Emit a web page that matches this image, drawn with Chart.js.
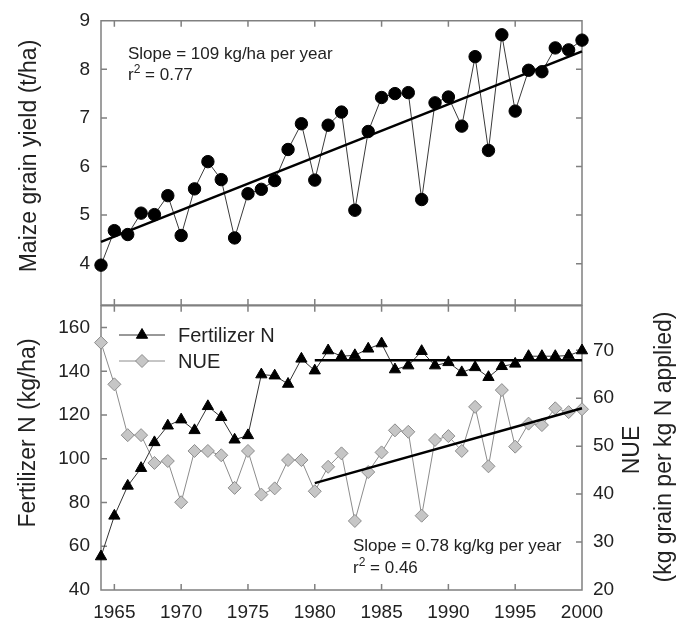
<!DOCTYPE html>
<html>
<head>
<meta charset="utf-8">
<script src="https://cdn.jsdelivr.net/npm/chart.js@4.4.1/dist/chart.umd.min.js"></script>
<style>
  html, body { margin: 0; padding: 0; background: #fff; }
  #wrap { position: relative; width: 679px; height: 624px; }
  canvas { position: absolute; left: 0; }
  #yieldChart { top: 0; }
  #nChart { top: 300px; }
</style>
</head>
<body>
<div id="wrap">
  <canvas id="yieldChart" width="679" height="310"></canvas>
  <canvas id="nChart" width="679" height="324"></canvas>
</div>
<script>
// data
var years = [1964, 1965, 1966, 1967, 1968, 1969, 1970, 1971, 1972, 1973, 1974, 1975,
             1976, 1977, 1978, 1979, 1980, 1981, 1982, 1983, 1984, 1985, 1986, 1987,
             1988, 1989, 1990, 1991, 1992, 1993, 1994, 1995, 1996, 1997, 1998, 1999, 2000];
var yearTicks = [1965, 1970, 1975, 1980, 1985, 1990, 1995, 2000];
var yieldTicks = [4, 5, 6, 7, 8, 9];
var fertTicks = [40, 60, 80, 100, 120, 140, 160];
var nueTicks = [20, 30, 40, 50, 60, 70];

var yieldData = [3.97, 4.68, 4.60, 5.04, 5.01, 5.40, 4.58, 5.54, 6.10, 5.73, 4.53, 5.44,
                 5.53, 5.71, 6.35, 6.88, 5.72, 6.85, 7.12, 5.10, 6.72, 7.42, 7.50, 7.52,
                 5.32, 7.31, 7.43, 6.83, 8.26, 6.33, 8.71, 7.14, 7.98, 7.95, 8.44, 8.40, 8.60];
var fertData = [55.3, 73.9, 87.6, 95.7, 107.5, 115.1, 117.9, 113.0, 124.0, 119.0, 108.7, 110.7,
                138.5, 138.0, 134.2, 145.7, 140.3, 149.5, 146.9, 147.3, 150.3, 152.7, 140.8, 142.6,
                149.2, 142.6, 144.1, 139.5, 141.8, 137.3, 142.3, 143.4, 146.9, 146.9, 146.9, 147.2, 149.5];
var nueData = [71.6, 62.9, 52.3, 52.3, 46.5, 46.9, 38.3, 49.0, 49.0, 48.1, 41.3, 49.0,
               39.9, 41.2, 47.1, 47.1, 40.6, 45.7, 48.5, 34.4, 44.6, 48.7, 53.3, 53.0,
               35.5, 51.3, 52.1, 49.0, 58.2, 45.8, 61.7, 49.9, 54.7, 54.4, 57.9, 57.1, 57.7];

// regression lines (end points)
var yieldFitYears = [1964, 2000];
var yieldFit = [4.45, 8.37];
var fertFitYears = [1980, 2000];
var fertFit = [145, 145];
var nueFitYears = [1980, 2000];
var nueFit = [42.3, 57.9];

var FONT = "'Liberation Sans', Arial, Helvetica, sans-serif";
var AXIS = '#808080';
var TEXT = '#222';

function pairs(xs, ys) {
    return xs.map(function (x, i) { return { x: x, y: ys[i] }; });
}

function fixedTicks(list) {
    return function (scale) {
        scale.ticks = list.map(function (v) { return { value: v }; });
    };
}

// fixed axis size, no automatic label padding
function fixedSize(w, h) {
    return function (s) {
        if (w !== null) s.width = w;
        if (h !== null) s.height = h;
        s.paddingTop = s.paddingBottom = s.paddingLeft = s.paddingRight = 0;
    };
}

// box around the plot area, ticks pointing inward
var framePlugin = {
    id: 'frame',
    beforeDatasetsDraw: function (chart, args, opts) {
        var ctx = chart.ctx, x = chart.scales.x;
        var left = chart.scales[opts.left], right = chart.scales[opts.right];
        var l = left.right, r = right.left, t = left.top, b = left.bottom;
        if (opts.left === opts.right) r = x.right;
        ctx.save();
        ctx.strokeStyle = AXIS;
        ctx.lineWidth = 1.5;
        ctx.beginPath();
        ctx.moveTo(l, t); ctx.lineTo(r, t); ctx.lineTo(r, b); ctx.lineTo(l, b); ctx.closePath();
        yearTicks.forEach(function (v) {
            var px = x.getPixelForValue(v);
            ctx.moveTo(px, t); ctx.lineTo(px, t + 6);
            ctx.moveTo(px, b); ctx.lineTo(px, b - 6);
        });
        opts.leftTicks.forEach(function (v) {
            var py = left.getPixelForValue(v);
            ctx.moveTo(l, py); ctx.lineTo(l + 6, py);
        });
        opts.rightTicks.forEach(function (v) {
            var py = right.getPixelForValue(v);
            ctx.moveTo(r, py); ctx.lineTo(r - 6, py);
        });
        ctx.stroke();
        ctx.restore();
    }
};

function vText(ctx, text, x, y, size) {
    ctx.save();
    ctx.translate(x, y);
    ctx.rotate(-Math.PI / 2);
    ctx.font = size + 'px ' + FONT;
    ctx.fillStyle = TEXT;
    ctx.textAlign = 'center';
    ctx.textBaseline = 'middle';
    ctx.fillText(text, 0, 0);
    ctx.restore();
}

function rSquared(ctx, x, y, value) {
    ctx.font = '17px ' + FONT;
    ctx.fillText('r', x, y);
    var w = ctx.measureText('r').width;
    ctx.font = '12px ' + FONT;
    ctx.fillText('2', x + w, y - 7);
    var w2 = ctx.measureText('2').width;
    ctx.font = '17px ' + FONT;
    ctx.fillText(' = ' + value, x + w + w2, y);
}

var topText = {
    id: 'topText',
    afterDraw: function (chart) {
        var ctx = chart.ctx;
        vText(ctx, 'Maize grain yield (t/ha)', 30, 156, 23);
        ctx.save();
        ctx.fillStyle = TEXT;
        ctx.textBaseline = 'alphabetic';
        ctx.font = '17px ' + FONT;
        ctx.fillText('Slope = 109 kg/ha per year', 128, 59);
        rSquared(ctx, 128, 80, '0.77');
        ctx.restore();
    }
};

var bottomText = {
    id: 'bottomText',
    afterDraw: function (chart) {
        var ctx = chart.ctx, off = 300;
        vText(ctx, 'Fertilizer N (kg/ha)', 29, 433 - off, 23);
        vText(ctx, 'NUE', 633, 450 - off, 23);
        vText(ctx, '(kg grain per kg N applied)', 665, 447 - off, 23);
        ctx.save();
        ctx.fillStyle = TEXT;
        ctx.textBaseline = 'alphabetic';
        ctx.font = '17px ' + FONT;
        ctx.fillText('Slope = 0.78 kg/kg per year', 353, 551 - off);
        rSquared(ctx, 353, 573 - off, '0.46');

        // legend: line with marker, same styles as the datasets
        var rows = [
            { ds: chart.data.datasets[2], y: 335 - off, label: 'Fertilizer N' },
            { ds: chart.data.datasets[3], y: 361 - off, label: 'NUE' }
        ];
        rows.forEach(function (r) {
            ctx.strokeStyle = r.ds.borderColor;
            ctx.lineWidth = r.ds.borderWidth;
            ctx.beginPath();
            ctx.moveTo(119, r.y); ctx.lineTo(165, r.y);
            ctx.stroke();
            ctx.fillStyle = r.ds.pointBackgroundColor;
            ctx.strokeStyle = r.ds.pointBorderColor;
            ctx.lineWidth = r.ds.pointBorderWidth;
            Chart.helpers.drawPoint(ctx, {
                pointStyle: r.ds.pointStyle, radius: r.ds.pointRadius,
                rotation: 0, borderWidth: r.ds.pointBorderWidth
            }, 142, r.y);
            ctx.fillStyle = TEXT;
            ctx.font = '20px ' + FONT;
            ctx.textBaseline = 'middle';
            ctx.fillText(r.label, 178, r.y + 1);
        });
        ctx.restore();
    }
};

var tickFont = { size: 19, family: FONT };

// maize grain yield (top panel)
var yieldChart = new Chart(document.getElementById('yieldChart'), {
    type: 'line',
    data: {
        datasets: [{
            label: 'Yield trend',
            data: pairs(yieldFitYears, yieldFit),
            borderColor: '#000',
            borderWidth: 2.5,
            pointRadius: 0,
            clip: false
        }, {
            label: 'Maize grain yield',
            data: pairs(years, yieldData),
            borderColor: '#3a3a3a',
            borderWidth: 1,
            pointStyle: 'circle',
            pointRadius: 6.2,
            pointBackgroundColor: '#000',
            pointBorderColor: '#000',
            pointBorderWidth: 1,
            clip: false
        }]
    },
    options: {
        responsive: false,
        animation: false,
        devicePixelRatio: 1,
        layout: { autoPadding: false, padding: { top: 20.7, bottom: 5, left: 0, right: 97 } },
        plugins: {
            legend: { display: false },
            tooltip: { enabled: false },
            frame: { left: 'y', right: 'y', leftTicks: [4, 5, 6, 7, 8], rightTicks: [4, 5, 6, 7, 8] }
        },
        scales: {
            x: { type: 'linear', min: 1964, max: 2000, display: false, afterFit: fixedSize(null, 0) },
            y: {
                min: 3.15, max: 9,
                afterBuildTicks: fixedTicks(yieldTicks),
                afterFit: fixedSize(101, null),
                grid: { display: false, drawTicks: false },
                border: { display: false },
                ticks: { font: tickFont, color: TEXT, padding: 11 }
            }
        }
    },
    plugins: [framePlugin, topText]
});

// fertilizer N and NUE (bottom panel)
var nChart = new Chart(document.getElementById('nChart'), {
    type: 'line',
    data: {
        datasets: [{
            label: 'Fertilizer N trend',
            data: pairs(fertFitYears, fertFit),
            yAxisID: 'yN',
            borderColor: '#000',
            borderWidth: 2.5,
            pointRadius: 0,
            clip: false
        }, {
            label: 'NUE trend',
            data: pairs(nueFitYears, nueFit),
            yAxisID: 'yE',
            borderColor: '#000',
            borderWidth: 2.5,
            pointRadius: 0,
            clip: false
        }, {
            label: 'Fertilizer N',
            data: pairs(years, fertData),
            yAxisID: 'yN',
            borderColor: '#333',
            borderWidth: 1,
            pointStyle: 'triangle',
            pointRadius: 6.5,
            pointBackgroundColor: '#000',
            pointBorderColor: '#000',
            pointBorderWidth: 1,
            clip: false
        }, {
            label: 'NUE',
            data: pairs(years, nueData),
            yAxisID: 'yE',
            borderColor: '#8c8c8c',
            borderWidth: 1,
            pointStyle: 'rectRot',
            pointRadius: 6.5,
            pointBackgroundColor: '#c6c6c6',
            pointBorderColor: '#8c8c8c',
            pointBorderWidth: 1,
            clip: false
        }]
    },
    options: {
        responsive: false,
        animation: false,
        devicePixelRatio: 1,
        layout: { autoPadding: false, padding: { top: 5.7, bottom: 0, left: 0, right: 0 } },
        plugins: {
            legend: { display: false },
            tooltip: { enabled: false },
            frame: { left: 'yN', right: 'yE', leftTicks: [60, 80, 100, 120, 140, 160], rightTicks: [30, 40, 50, 60, 70] }
        },
        scales: {
            x: {
                type: 'linear', min: 1964, max: 2000,
                afterBuildTicks: fixedTicks(yearTicks),
                afterFit: fixedSize(null, 34),
                grid: { display: false, drawTicks: false },
                border: { display: false },
                ticks: {
                    font: tickFont, color: TEXT, padding: 11, maxRotation: 0, autoSkip: false,
                    callback: function (v) { return String(v); }
                }
            },
            yN: {
                position: 'left',
                min: 40, max: 170,
                afterBuildTicks: fixedTicks(fertTicks),
                afterFit: fixedSize(101, null),
                grid: { display: false, drawTicks: false },
                border: { display: false },
                ticks: { font: tickFont, color: TEXT, padding: 11 }
            },
            yE: {
                position: 'right',
                min: 20, max: 79.3,
                afterBuildTicks: fixedTicks(nueTicks),
                afterFit: fixedSize(97, null),
                grid: { display: false, drawTicks: false },
                border: { display: false },
                ticks: { font: tickFont, color: TEXT, padding: 11 }
            }
        }
    },
    plugins: [framePlugin, bottomText]
});
</script>
</body>
</html>
